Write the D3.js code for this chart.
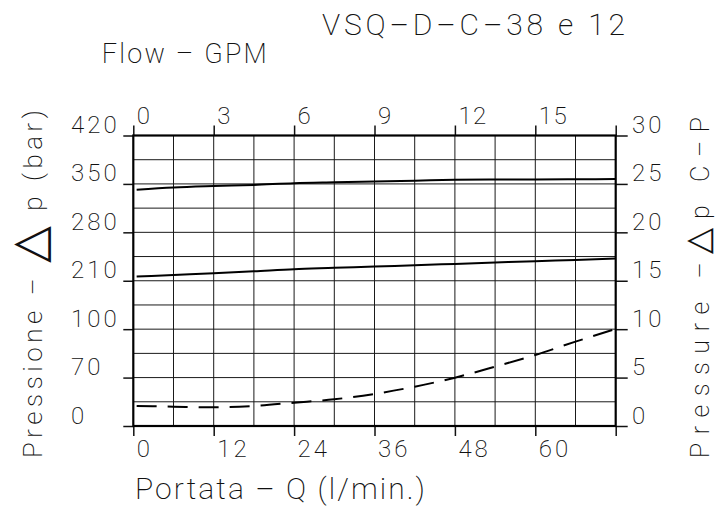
<!DOCTYPE html>
<html>
<head>
<meta charset="utf-8">
<script src="https://cdn.jsdelivr.net/npm/d3@7"></script>
<style>
  body { margin: 0; background: #fff; }
  text { font-family: Roboto, "DejaVu Sans", sans-serif; font-weight: 200; fill: #111; }
</style>
</head>
<body>
<svg id="chart" width="717" height="508"></svg>
<script>
// flow (l/min) where the curves were read
const flowLmin = [0.5, 6, 12, 18, 24, 30, 36, 42, 48, 54, 60, 66, 72];
// curves, in right-axis units (0..30)
const setHigh = [24.4, 24.63, 24.78, 24.9, 25.08, 25.17, 25.25, 25.33, 25.42, 25.45, 25.46, 25.48, 25.5];
const setLow = [15.43, 15.6, 15.78, 15.98, 16.2, 16.33, 16.47, 16.6, 16.74, 16.88, 17.02, 17.15, 17.29];
const deltaP = [2.07, 2.0, 1.93, 2.07, 2.41, 2.76, 3.31, 4.06, 4.99, 6.13, 7.34, 8.71, 10.02];

const bottomTicks = [0, 12, 24, 36, 48, 60, 72];
const topTicks = [0, 3, 6, 9, 12, 15, 18];
const rightTicks = [0, 5, 10, 15, 20, 25, 30];
const leftLabels = ["0", "70", "100", "210", "280", "350", "420"];

var svg = d3.select("#chart");
svg.append("rect").attr("width", 717).attr("height", 508).attr("fill", "#fff");

var x = d3.scaleLinear().domain([0, 72]).range([133.3, 615.7]);
var xTop = d3.scaleLinear().domain([0, 18]).range([133.3, 615.7]);
var y = d3.scaleLinear().domain([0, 30]).range([426, 135.5]);

// grid
var grid = svg.append("g").attr("stroke", "#1a1a1a").attr("stroke-width", 1);
grid.selectAll(".v").data(d3.range(6, 72, 6)).join("line")
  .attr("x1", d => x(d)).attr("x2", d => x(d))
  .attr("y1", y(0)).attr("y2", y(30));
grid.selectAll(".h").data(d3.range(2.5, 30, 2.5)).join("line")
  .attr("x1", x(0)).attr("x2", x(72))
  .attr("y1", d => y(d)).attr("y2", d => y(d));

function styleAxis(g) {
  g.select(".domain").remove();
  g.selectAll(".tick line").attr("stroke", "#111").attr("stroke-width", 1.5);
  g.selectAll(".tick text").attr("font-size", 24).attr("font-family", null)
    .attr("letter-spacing", 3).attr("text-anchor", "start").attr("fill", "#111");
}

svg.append("g").attr("transform", `translate(0,${y(0)})`)
  .call(d3.axisBottom(x).tickValues(bottomTicks).tickSize(10).tickSizeOuter(0)
    .tickFormat(d => d === 72 ? "" : d))
  .call(styleAxis)
  .call(g => g.selectAll(".tick text").attr("x", 3).attr("y", 14).attr("dy", "0.71em"));

svg.append("g").attr("transform", `translate(0,${y(30)})`)
  .call(d3.axisTop(xTop).tickValues(topTicks).tickSize(10).tickSizeOuter(0)
    .tickFormat(d => d === 18 ? "" : d))
  .call(styleAxis)
  .call(g => g.selectAll(".tick text").attr("x", 3).attr("y", -12).attr("dy", 0)
    .attr("letter-spacing", 1.5));

svg.append("g").attr("transform", `translate(${x(0)},0)`)
  .call(d3.axisLeft(y).tickValues(rightTicks).tickSize(10).tickSizeOuter(0)
    .tickFormat((d, i) => leftLabels[i]))
  .call(styleAxis)
  .call(g => g.selectAll(".tick text").attr("x", -62.3).attr("y", -3).attr("dy", 0));

svg.append("g").attr("transform", `translate(${x(72)},0)`)
  .call(d3.axisRight(y).tickValues(rightTicks).tickSize(12).tickSizeOuter(0))
  .call(styleAxis)
  .call(g => g.selectAll(".tick text").attr("x", 16.3).attr("y", -3).attr("dy", 0));

// border
svg.append("rect")
  .attr("x", x(0)).attr("y", y(30))
  .attr("width", x(72) - x(0)).attr("height", y(0) - y(30))
  .attr("fill", "none").attr("stroke", "#000").attr("stroke-width", 2.2);

// curves
var line = d3.line().x((d, i) => x(flowLmin[i])).y(d => y(d)).curve(d3.curveMonotoneX);
svg.append("path").attr("d", line(setHigh))
  .attr("fill", "none").attr("stroke", "#000").attr("stroke-width", 2);
svg.append("path").attr("d", line(setLow))
  .attr("fill", "none").attr("stroke", "#000").attr("stroke-width", 2);
svg.append("path").attr("d", line(deltaP))
  .attr("fill", "none").attr("stroke", "#000").attr("stroke-width", 2)
  .attr("stroke-dasharray", "20,11");

// titles
svg.append("text").attr("x", 322).attr("y", 35).attr("font-size", 30)
  .attr("textLength", 303).attr("lengthAdjust", "spacing")
  .text("VSQ–D–C–38 e 12");

svg.append("text").attr("x", 101.7).attr("y", 63.3).attr("font-size", 27)
  .attr("textLength", 165).attr("lengthAdjust", "spacing")
  .text("Flow – GPM");

svg.append("text").attr("x", 135).attr("y", 499).attr("font-size", 30)
  .attr("textLength", 290).attr("lengthAdjust", "spacing")
  .text("Portata – Q (l/min.)");

var lt = svg.append("text").attr("transform", "translate(42,458) rotate(-90)")
  .attr("font-size", 26).attr("textLength", 348).attr("lengthAdjust", "spacing");
lt.append("tspan").text("Pressione – ");
lt.append("tspan").attr("font-size", 48).attr("dy", 3).text("△");
lt.append("tspan").attr("dy", -3).text(" p (bar)");

var rt = svg.append("text").attr("transform", "translate(709,458) rotate(-90)")
  .attr("font-size", 25).attr("textLength", 341).attr("lengthAdjust", "spacing");
rt.append("tspan").text("Pressure –");
rt.append("tspan").attr("font-size", 34).text("△");
rt.append("tspan").text("p C–P");
</script>
</body>
</html>
